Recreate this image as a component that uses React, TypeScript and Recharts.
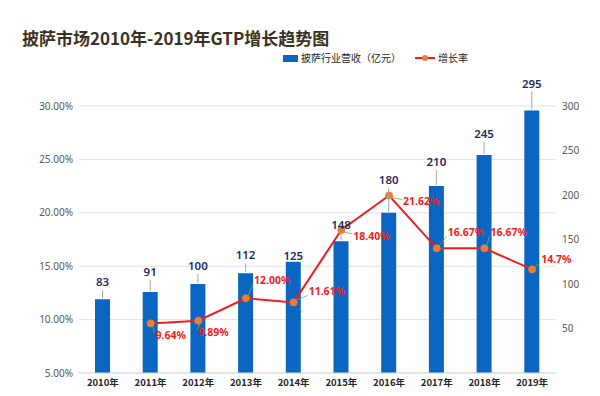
import React from 'react';
import { ComposedChart, Bar, Line, XAxis, YAxis, CartesianGrid } from 'recharts';

const YEARS = ['2010年', '2011年', '2012年', '2013年', '2014年', '2015年', '2016年', '2017年', '2018年', '2019年'];
const REVENUE = [83, 91, 100, 112, 125, 148, 180, 210, 245, 295];
const RATES: (number | null)[] = [null, 9.64, 9.89, 12.0, 11.61, 18.4, 21.62, 16.67, 16.67, 14.7];
const RATE_LABELS = ['', '9.64%', '9.89%', '12.00%', '11.61%', '18.40%', '21.62%', '16.67%', '16.67%', '14.7%'];
const PCT_TICKS = [5, 10, 15, 20, 25, 30];
const REV_TICKS = [50, 100, 150, 200, 250, 300];

// callout placement (Excel-style labels, moved by hand in the original)
const BAR_LABEL_LIFT = [16, 19, 17, 17, 5, 15, 32, 23, 20, 26];
const RATE_LABEL_POS = [[0, 0], [5, 13], [0, 12], [8, -17], [15, -10], [12, 7], [14, 7], [11, -15], [6, -15], [9, -9]];

const data = YEARS.map((year, i) => ({ year, revenue: REVENUE[i], rate: RATES[i] }));

const BLUE = '#0a66c2';
const RED = '#f41c1c';
const ORANGE = '#ed7d31';
const CJK = '"Noto Sans CJK SC", "Noto Sans", sans-serif';

const renderBarLabel = (props: any) => {
    const { x, y, width, index, value } = props;
    const cx = x + width / 2;
    const lift = BAR_LABEL_LIFT[index];
    return (
        <g>
            {lift > 10 && <line x1={cx} y1={y - 1} x2={cx} y2={y - lift + 7} stroke="#a6a6a6" strokeWidth={1} />}
            <text x={cx} y={y - lift} textAnchor="middle" dominantBaseline="middle" fill="#1f2b5c" fontSize={11.5} fontWeight={600} fontFamily="Noto Sans, sans-serif">
                {value}
            </text>
        </g>
    );
};

const renderRateLabel = (props: any) => {
    const { x, y, index, value } = props;
    if (value == null || y == null) return null;
    const [dx, dy] = RATE_LABEL_POS[index];
    return (
        <g>
            <line x1={x + 2} y1={y + (dy > 0 ? 2 : -2)} x2={x + dx - 1} y2={y + dy + (dy > 0 ? -3 : 3)} stroke="#70ad47" strokeWidth={0.8} />
            <text x={x + dx} y={y + dy} textAnchor="start" dominantBaseline="middle" fill={RED} fontSize={10.5} fontWeight="bold" fontFamily="Noto Sans, sans-serif">
                {RATE_LABELS[index]}
            </text>
        </g>
    );
};

const App: React.FC = () => {
    return (
        <div style={{ position: 'absolute', left: 0, top: 0, width: 600, height: 396, background: '#fff', fontFamily: CJK }}>
            {/* Title */}
            <div style={{ position: 'absolute', left: 22, top: 26, fontSize: 17, fontWeight: 'bold', color: '#3b3222', lineHeight: '24px', whiteSpace: 'nowrap' }}>
                披萨市场2010年-2019年GTP增长趋势图
            </div>

            {/* Legend */}
            <div style={{ position: 'absolute', left: 283, top: 50, display: 'flex', alignItems: 'center', fontSize: 10, color: '#262626', lineHeight: '16px', whiteSpace: 'nowrap' }}>
                <div style={{ width: 15, height: 7, background: BLUE, marginRight: 3 }} />
                <span>披萨行业营收（亿元）</span>
                <div style={{ position: 'relative', width: 20, height: 7, marginLeft: 14, marginRight: 3 }}>
                    <div style={{ position: 'absolute', left: 0, top: 2.5, width: 20, height: 2, background: RED }} />
                    <div style={{ position: 'absolute', left: 7, top: 0.5, width: 6, height: 6, borderRadius: 3, background: ORANGE }} />
                </div>
                <span>增长率</span>
            </div>

            <ComposedChart width={600} height={396} data={data} margin={{ top: 106, right: 10, bottom: 0, left: 20 }}>
                <CartesianGrid yAxisId="pct" vertical={false} stroke="#e3e3e3" />
                <XAxis
                    dataKey="year"
                    height={23}
                    axisLine={{ stroke: '#d9d9d9' }}
                    tickLine={false}
                    tickMargin={2}
                    tickSize={4}
                    tick={{ fontSize: 9.5, fill: '#262626', fontWeight: 'bold', fontFamily: CJK }}
                    interval={0}
                />
                <YAxis
                    yAxisId="pct"
                    orientation="left"
                    width={59}
                    domain={[5, 30]}
                    ticks={PCT_TICKS}
                    axisLine={false}
                    tickLine={false}
                    tickSize={4}
                    tickMargin={2}
                    tickFormatter={(v: number) => v.toFixed(2) + '%'}
                    tick={{ fontSize: 10, fill: '#595959', fontFamily: 'Noto Sans, sans-serif' }}
                />
                <YAxis
                    yAxisId="rev"
                    orientation="right"
                    width={34}
                    domain={[0, 300]}
                    ticks={REV_TICKS}
                    axisLine={false}
                    tickLine={false}
                    tickSize={4}
                    tickMargin={2}
                    tick={{ fontSize: 10, fill: '#595959', fontFamily: 'Noto Sans, sans-serif' }}
                />
                <Bar yAxisId="rev" dataKey="revenue" fill={BLUE} barSize={15} isAnimationActive={false} label={renderBarLabel} />
                <Line
                    yAxisId="pct"
                    dataKey="rate"
                    stroke={RED}
                    strokeWidth={2}
                    dot={{ r: 3.5, fill: ORANGE, stroke: ORANGE, strokeWidth: 1 }}
                    isAnimationActive={false}
                    label={renderRateLabel}
                />
            </ComposedChart>
        </div>
    );
};

export default App;
